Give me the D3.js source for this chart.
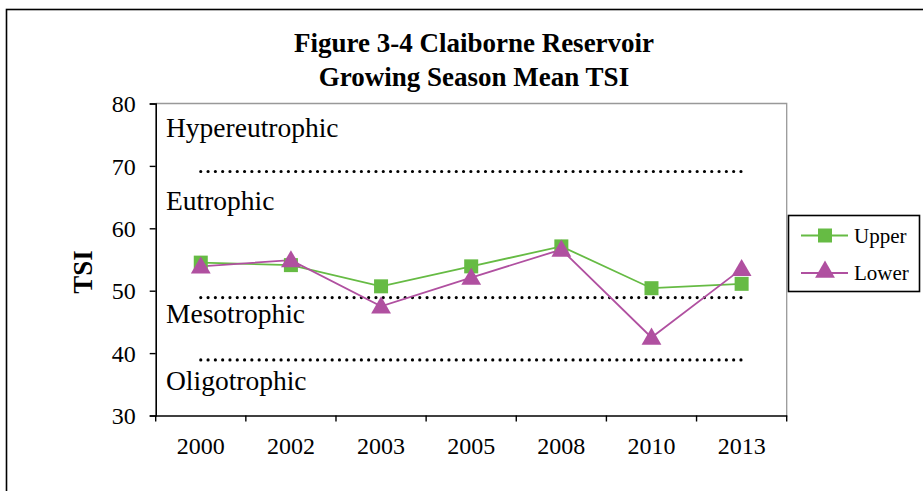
<!DOCTYPE html>
<html>
<head>
<meta charset="utf-8">
<script src="https://cdn.jsdelivr.net/npm/d3@7/dist/d3.min.js"></script>
<style>
  html, body { margin: 0; padding: 0; background: #fff; }
  svg { display: block; }
  text { font-family: "Liberation Serif", "Times New Roman", serif; fill: #000; }
</style>
</head>
<body>
<svg id="chart" width="923" height="491"></svg>
<script>
// Sampling years (category axis)
const years = ["2000", "2002", "2003", "2005", "2008", "2010", "2013"];
// Growing season mean TSI at each station
const upper = [54.5, 54.1, 50.7, 53.9, 57.1, 50.4, 51.1];
const lower = [53.9, 54.9, 47.5, 52.1, 56.6, 42.5, 53.5];
// Trophic-state boundary lines
const boundaries = [69.1, 48.9, 38.9];
// Trophic-state names and the TSI level of each name's baseline
const zoneNames = ["Hypereutrophic", "Eutrophic", "Mesotrophic", "Oligotrophic"];
const zoneLevels = [74.6, 62.9, 44.8, 34.1];
const yTicks = [30, 40, 50, 60, 70, 80];

const svg = d3.select("#chart");
const plotLeft = 155.7, plotRight = 786.7, plotTop = 103.5, plotBottom = 415.5;

const x = d3.scaleBand().domain(years).range([plotLeft, plotRight]).padding(0);
const y = d3.scaleLinear().domain([30, 80]).range([plotBottom, plotTop]);
const cx = d => x(d) + x.bandwidth() / 2;

// Outer chart frame
svg.append("rect")
  .attr("x", 6.5).attr("y", 9.5).attr("width", 930).attr("height", 500)
  .attr("fill", "#fff").attr("stroke", "#000").attr("stroke-width", 1.6);

// Title
const title = svg.append("text")
  .attr("text-anchor", "middle")
  .attr("font-weight", "bold").attr("font-size", 27);
title.append("tspan").attr("x", 474).attr("y", 52).text("Figure 3-4 Claiborne Reservoir");
title.append("tspan").attr("x", 474).attr("y", 86).text("Growing Season Mean TSI");

// Plot area outline (top and right edges)
svg.append("path")
  .attr("d", `M${plotLeft},${plotTop}H${plotRight}V${plotBottom}`)
  .attr("fill", "none").attr("stroke", "#999").attr("stroke-width", 1.3);

// Y axis
const yAxis = svg.append("g")
  .attr("transform", `translate(${plotLeft},0)`)
  .call(d3.axisLeft(y).tickValues(yTicks).tickSize(6).tickPadding(14));
yAxis.select(".domain").attr("stroke", "#000").attr("stroke-width", 1.6);
yAxis.selectAll(".tick line").attr("stroke", "#000").attr("stroke-width", 1.4);
yAxis.selectAll(".tick text")
  .attr("font-family", "Liberation Serif, serif").attr("font-size", 24)
  .attr("dy", "0.34em").attr("fill", "#000");

// X axis with tick marks on category boundaries
const xAxis = svg.append("g")
  .attr("transform", `translate(0,${plotBottom})`)
  .call(d3.axisBottom(x).tickSize(0).tickPadding(21));
xAxis.select(".domain").attr("stroke", "#000").attr("stroke-width", 1.6);
xAxis.selectAll(".tick text")
  .attr("font-family", "Liberation Serif, serif").attr("font-size", 24).attr("fill", "#000");
xAxis.selectAll(".boundary")
  .data(years.map(d => x(d)).concat([plotRight]))
  .join("line")
  .attr("x1", d => d).attr("x2", d => d)
  .attr("y1", 0).attr("y2", 6)
  .attr("stroke", "#000").attr("stroke-width", 1.4);

// Y axis title
svg.append("text")
  .attr("transform", "translate(92,272) rotate(-90)")
  .attr("text-anchor", "middle")
  .attr("font-weight", "bold").attr("font-size", 27)
  .text("TSI");

// Dotted trophic-state boundaries
const flat = v => years.map(yr => [cx(yr), y(v)]);
svg.selectAll(".boundary-line")
  .data(boundaries)
  .join("path")
  .attr("d", v => d3.line()(flat(v)))
  .attr("fill", "none").attr("stroke", "#000")
  .attr("stroke-width", 3.2).attr("stroke-linecap", "round")
  .attr("stroke-dasharray", "0 7.3");

// Zone names
svg.selectAll(".zone")
  .data(zoneNames)
  .join("text")
  .attr("x", 166).attr("y", (d, i) => y(zoneLevels[i]))
  .attr("font-size", 27.5)
  .text(d => d);

const green = "#66BB44", purple = "#B050A0";
const tri = d3.symbol().type(d3.symbolTriangle).size(170);

// Series lines
const line = d3.line().x((d, i) => cx(years[i])).y(d => y(d));
svg.append("path").attr("d", line(upper))
  .attr("fill", "none").attr("stroke", green).attr("stroke-width", 1.8);
svg.append("path").attr("d", line(lower))
  .attr("fill", "none").attr("stroke", purple).attr("stroke-width", 1.8);

// Markers
svg.selectAll(".up").data(upper).join("rect")
  .attr("x", (d, i) => cx(years[i]) - 7).attr("y", d => y(d) - 7)
  .attr("width", 14).attr("height", 14).attr("fill", green);
svg.selectAll(".lo").data(lower).join("path")
  .attr("d", tri)
  .attr("transform", (d, i) => `translate(${cx(years[i])},${y(d) + 1.5})`)
  .attr("fill", purple);

// Legend
const lg = svg.append("g");
lg.append("rect")
  .attr("x", 788.5).attr("y", 215.5).attr("width", 131).attr("height", 76)
  .attr("fill", "#fff").attr("stroke", "#000").attr("stroke-width", 1.6);
const entries = [
  { name: "Upper", color: green, shape: "square", yy: 235.5 },
  { name: "Lower", color: purple, shape: "triangle", yy: 273 }
];
entries.forEach(e => {
  lg.append("line").attr("x1", 801).attr("x2", 848).attr("y1", e.yy).attr("y2", e.yy)
    .attr("stroke", e.color).attr("stroke-width", 1.8);
  if (e.shape === "square") {
    lg.append("rect").attr("x", 818).attr("y", e.yy - 7).attr("width", 14).attr("height", 14)
      .attr("fill", e.color);
  } else {
    lg.append("path").attr("d", tri).attr("transform", `translate(825,${e.yy - 1})`)
      .attr("fill", e.color);
  }
  lg.append("text").attr("x", 854).attr("y", e.yy + 7).attr("font-size", 21).text(e.name);
});
</script>
</body>
</html>
